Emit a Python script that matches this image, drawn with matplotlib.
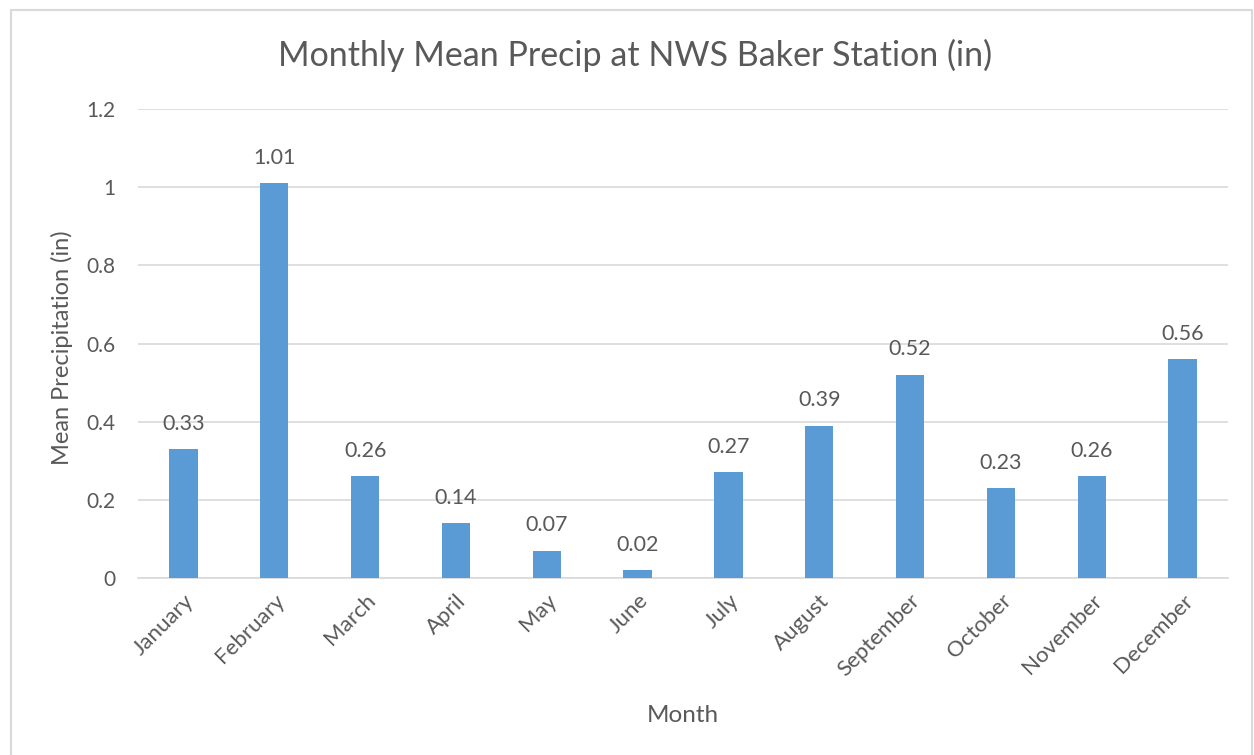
import matplotlib
matplotlib.use("Agg")
import matplotlib.pyplot as plt
from matplotlib.patches import Rectangle

months = ["January", "February", "March", "April", "May", "June", "July",
          "August", "September", "October", "November", "December"]
precip = [0.33, 1.01, 0.26, 0.14, 0.07, 0.02, 0.27, 0.39, 0.52, 0.23, 0.26, 0.56]
yticks = [0, 0.2, 0.4, 0.6, 0.8, 1, 1.2]
ytick_labels = ["0", "0.2", "0.4", "0.6", "0.8", "1", "1.2"]

plt.rcParams['font.family'] = ['Lato', 'DejaVu Sans']
gray = "#595959"

fig = plt.figure(figsize=(12.54, 7.55), dpi=100)
fig.patches.append(Rectangle((11/1254, -0.01), (1252-11)/1254, 1 - 10/755 + 0.01,
                             transform=fig.transFigure, fill=False,
                             edgecolor="#D9D9D9", linewidth=1.5))
ax = fig.add_axes([138/1254, 1 - 578/755, (1228-138)/1254, (578-109)/755])

x = list(range(len(months)))
bars = ax.bar(x, precip, width=0.313, color="#5B9BD5", zorder=3)
for xi, v in zip(x, precip):
    ax.annotate(f"{v:.2f}", (xi, v), xytext=(0, 11), textcoords="offset points",
                ha="center", va="bottom", fontsize=15.5, color=gray)

ax.set_xlim(-0.5, len(months) - 0.5)
ax.set_ylim(0, 1.2)
ax.set_yticks(yticks)
ax.set_yticklabels(ytick_labels)
ax.set_xticks(x)
ax.set_xticklabels(months, rotation=45, ha="right", rotation_mode="anchor")
ax.tick_params(axis="both", length=0, labelsize=15, labelcolor=gray)
ax.tick_params(axis="x", labelsize=16, pad=9)
ax.tick_params(axis="y", pad=16.5)
ax.grid(axis="y", color="#D9D9D9", linewidth=1.2, zorder=0)
for s in ["top", "right", "left"]:
    ax.spines[s].set_visible(False)
ax.spines["bottom"].set_color("#D9D9D9")
ax.spines["bottom"].set_linewidth(1.2)

fig.text(635/1254, 1 - 55/755, "Monthly Mean Precip at NWS Baker Station (in)",
         ha="center", va="center", fontsize=24.5, color=gray)
fig.text(683/1254, 1 - 716/755, "Month", ha="center", va="center",
         fontsize=17.5, color=gray)
fig.text(62/1254, 1 - 348/755, "Mean Precipitation (in)", ha="center",
         va="center", rotation=90, fontsize=17, color=gray)

fig.savefig("out.png", dpi=100)
